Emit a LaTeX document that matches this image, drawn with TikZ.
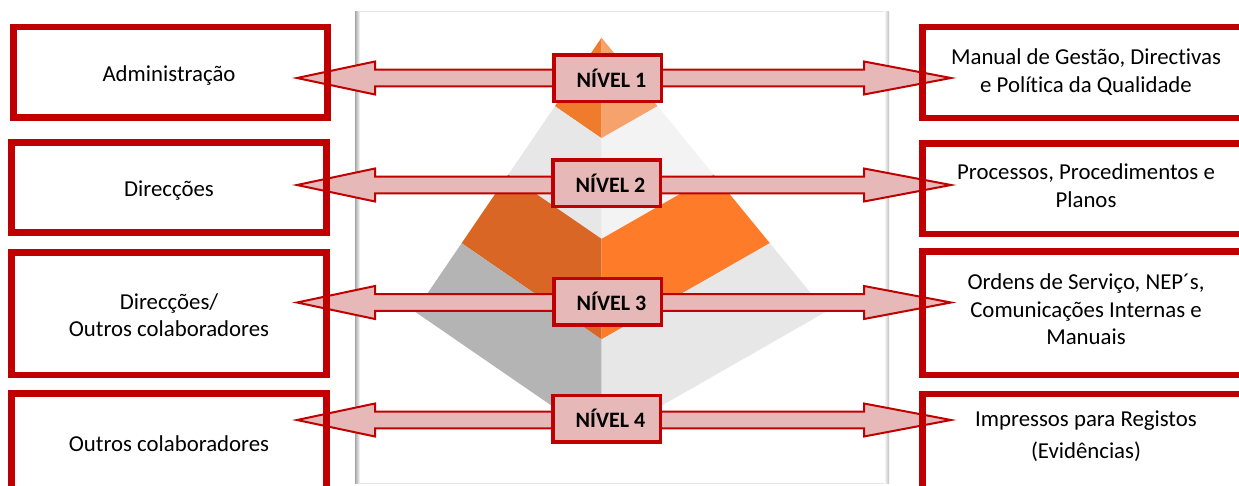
\documentclass[tikz,border=0pt]{standalone}
\usepackage{fontspec}
\setmainfont{Carlito}[Ligatures={NoCommon,NoContextual}]
\usetikzlibrary{calc}
\definecolor{boxred}{HTML}{C00000}
\definecolor{arrowpink}{HTML}{E6B8B7}
\definecolor{orTopL}{HTML}{F07B2C}
\definecolor{orTopR}{HTML}{F5A26C}
\definecolor{grMidL}{HTML}{E7E7E7}
\definecolor{grMidR}{HTML}{F3F3F3}
\definecolor{orLowL}{HTML}{D96624}
\definecolor{orLowR}{HTML}{FD7B29}
\definecolor{grBaseL}{HTML}{B4B4B4}
\definecolor{grBaseR}{HTML}{E7E7E7}
\begin{document}
\begin{tikzpicture}[x=1pt,y=-1pt,
  txt/.style={font=\fontsize{22.8}{27.5}\selectfont, align=center},
  sidebox/.style={draw=boxred, line width=6.5pt, inner sep=0pt},
  nivel/.style={draw=boxred, fill=arrowpink, line width=3.5pt,
    minimum width=107.5pt, minimum height=46.5pt, inner sep=0pt,
    font=\fontsize{22}{26}\selectfont\bfseries},
  blockarrow/.style={draw=boxred, fill=arrowpink, line width=2pt, line join=miter}
]
\useasboundingbox (0,0) rectangle (1239,485);
\clip (0,0) rectangle (1239,485);
\fill[white] (0,0) rectangle (1239,485);

% framed panel behind the pyramid
\draw[draw=black!10, fill=white] (356,11) rectangle (888,483);
\shade[left color=black!35, right color=white] (355,11) rectangle (360,483);
\shade[left color=white, right color=black!25] (884,11) rectangle (889,483);

% pyramid: apex, left and right base corners, front base corner
\coordinate (A) at (601.5,37.7);
\coordinate (L) at (415,311.7);
\coordinate (R) at (826,311.7);
\coordinate (F) at (601.5,440);
\foreach \t/\u/\cl/\cr in {0/0.25/orTopL/orTopR, 0.25/0.5/grMidL/grMidR,
                           0.5/0.75/orLowL/orLowR, 0.75/1/grBaseL/grBaseR} {
  \fill[\cl] ($(A)!\t!(L)$) -- ($(A)!\u!(L)$) -- ($(A)!\u!(F)$) -- ($(A)!\t!(F)$) -- cycle;
  \fill[\cr] ($(A)!\t!(R)$) -- ($(A)!\u!(R)$) -- ($(A)!\u!(F)$) -- ($(A)!\t!(F)$) -- cycle;
}

% double block arrows, one per level
\foreach \y in {78,185,302.5,420} {
  \draw[blockarrow] (297,\y) -- (375,\y-16.5) -- (375,\y-8.3) -- (864,\y-8.3)
    -- (864,\y-16.5) -- (951,\y) -- (864,\y+16.5) -- (864,\y+8.3)
    -- (375,\y+8.3) -- (375,\y+16.5) -- cycle;
}

% level labels
\node[nivel] (n1) at (607.5,78)    {\hspace*{8pt}NÍVEL 1};
\node[nivel] (n2) at (606.5,183)   {\hspace*{8pt}NÍVEL 2};
\node[nivel] (n3) at (607.5,301.5) {\hspace*{8pt}NÍVEL 3};
\node[nivel] (n4) at (606.5,418.5) {\hspace*{8pt}NÍVEL 4};

% left column: who
\node[sidebox, minimum width=314.2pt, minimum height=90.4pt] (l1) at (170.4,72.2) {};
\node[sidebox, minimum width=314.6pt, minimum height=90pt] (l2) at (169,187.7) {};
\node[sidebox, minimum width=314.6pt, minimum height=122.3pt] (l3) at (169,313.8) {};
\node[sidebox, minimum width=315pt, minimum height=98.6pt] (l4) at (169.2,443) {};
\node[txt] (l1t) at (169,75.5) {Administração};
\node[txt] (l2t) at (169,190.5) {Direcções};
\node[txt] (l3t) at (169,315) {Direcções/\\Outros colaboradores};
\node[txt] (l4t) at (169,443.5) {Outros colaboradores};

% right column: documents
\node[sidebox, minimum width=326.6pt, minimum height=90.8pt] (r1) at (1086,72.4) {};
\node[sidebox, minimum width=326.6pt, minimum height=90.7pt] (r2) at (1086,188.7) {};
\node[sidebox, minimum width=326.6pt, minimum height=123.3pt] (r3) at (1086,313.3) {};
\node[sidebox, minimum width=326.6pt, minimum height=101pt] (r4) at (1086,444.5) {};
\node[txt] (r1t) at (1086,72) {Manual de Gestão, Directivas\\e Política da Qualidade};
\node[txt] (r2t) at (1086,185.5) {Processos, Procedimentos e\\Planos};
\node[txt] (r3t) at (1086,309.5) {Ordens de Serviço, NEP´s,\\Comunicações Internas e\\Manuais};
\node[txt, font=\fontsize{22.8}{31.5}\selectfont] (r4t) at (1086,436) {Impressos para Registos\\(Evidências)};
\end{tikzpicture}
\end{document}
